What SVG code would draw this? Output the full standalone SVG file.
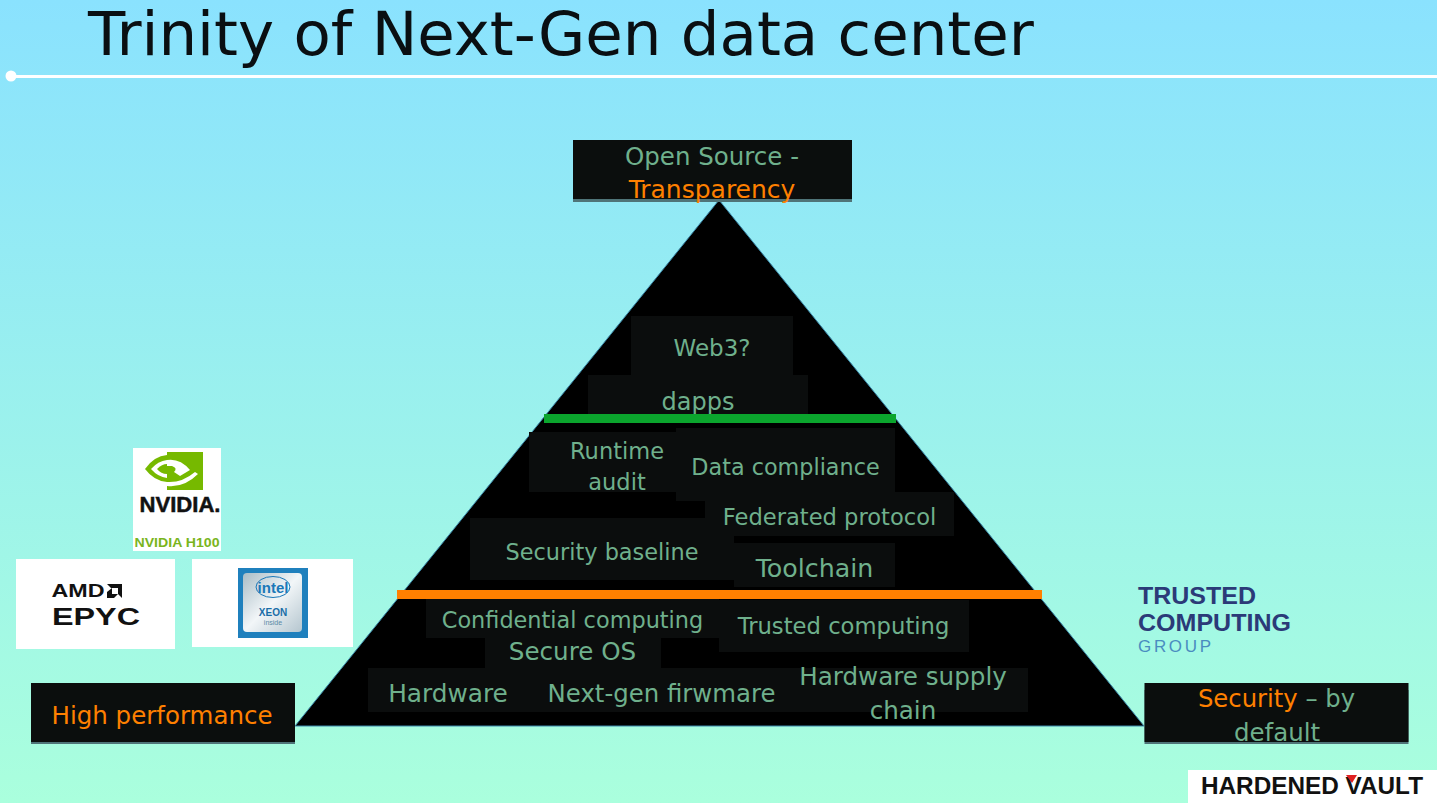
<svg xmlns="http://www.w3.org/2000/svg" width="1437" height="803" viewBox="0 0 1437 803">
<defs>
<linearGradient id="bg" x1="0" y1="0" x2="0" y2="1"><stop offset="0" stop-color="#8ae2fe"/><stop offset="1" stop-color="#aaffdd"/></linearGradient>
<linearGradient id="chip" x1="0" y1="0" x2="1" y2="1"><stop offset="0" stop-color="#a9bcc6"/><stop offset="0.5" stop-color="#f2f6f8"/><stop offset="1" stop-color="#b5c6cf"/></linearGradient>
</defs>
<style>
text{font-family:"DejaVu Sans",sans-serif;text-anchor:middle}
.g{fill:#6fb08c}
.o{fill:#ff8000}
.pl{fill:#0b0d0d}
.box{fill:#0b0e0d}
.sh{fill:#4f7478}
.lg{font-family:"Liberation Sans",sans-serif;font-weight:bold}
</style>
<rect width="1437" height="803" fill="url(#bg)"/>
<g id="title">
<text x="561" y="55" font-size="61" fill="#0a0f12">Trinity of Next-Gen data center</text>
<rect x="11" y="75" width="1426" height="3" fill="#fff"/>
<circle cx="11" cy="76" r="5.5" fill="#fff"/>
</g>
<g id="pyramid"><polygon points="719,200 1144,726 295,726" fill="#000" stroke="#3a86a8" stroke-width="1"/></g>
<g id="node-web3"><rect class="pl" x="631" y="316" width="162" height="62"/><text class="g" x="712" y="356" font-size="23">Web3?</text></g>
<g id="node-dapps"><rect class="pl" x="588" y="375" width="220" height="44"/><text class="g" x="698" y="410" font-size="24">dapps</text></g>
<g id="node-runtime"><rect class="pl" x="529" y="432" width="147" height="60"/><text class="g" x="617" y="459" font-size="22.5">Runtime</text><text class="g" x="617" y="490" font-size="22.5">audit</text></g>
<g id="node-compliance"><rect class="pl" x="676" y="428" width="219" height="73"/><text class="g" x="785.5" y="475" font-size="22.3">Data compliance</text></g>
<g id="node-baseline"><rect class="pl" x="470" y="518" width="264" height="62"/><text class="g" x="602" y="560" font-size="22.4">Security baseline</text></g>
<g id="node-federated"><rect class="pl" x="705" y="492" width="249" height="44"/><text class="g" x="829.5" y="525" font-size="22.6">Federated protocol</text></g>
<g id="node-toolchain"><rect class="pl" x="734" y="543" width="161" height="44"/><text class="g" x="814.5" y="577" font-size="25.3">Toolchain</text></g>
<g id="node-confidential"><rect class="pl" x="426" y="599" width="293" height="39"/><text class="g" x="572.5" y="628" font-size="22.4">Confidential computing</text></g>
<g id="node-trusted"><rect class="pl" x="719" y="600" width="250" height="52"/><text class="g" x="843.5" y="634" font-size="22.7">Trusted computing</text></g>
<g id="node-secureos"><rect class="pl" x="485" y="638" width="176" height="34"/><text class="g" x="572.5" y="660" font-size="24.6">Secure OS</text></g>
<g id="node-hardware"><rect class="pl" x="368" y="668" width="162" height="44"/><text class="g" x="448" y="702" font-size="24.8">Hardware</text></g>
<g id="node-firmware"><rect class="pl" x="530" y="668" width="265" height="44"/><text class="g" x="661.5" y="702" font-size="24.4">Next-gen firwmare</text></g>
<g id="node-supply"><rect class="pl" x="785" y="668" width="243" height="44"/><text class="g" x="903" y="685" font-size="24.6">Hardware supply</text><text class="g" x="903" y="719" font-size="24.6">chain</text></g>
<g id="bars">
<rect x="544" y="414" width="352" height="9" fill="#0ba52d"/>
<rect x="397" y="590" width="645" height="9" fill="#ff8000"/>
</g>
<g id="node-open">
<rect class="sh" x="573" y="145" width="279" height="57"/><rect class="box" x="573" y="140" width="279" height="59"/>
<text class="g" x="712" y="165" font-size="24.5">Open Source -</text><text class="g o" x="712" y="198" font-size="25">Transparency</text>
</g>
<g id="node-performance">
<rect class="sh" x="31" y="690" width="264" height="54"/><rect class="box" x="31" y="683" width="264" height="59"/>
<text class="g o" x="162" y="724" font-size="24.5">High performance</text>
</g>
<g id="node-security">
<rect class="sh" x="1144.500" y="690" width="264" height="54"/><rect class="box" x="1144.500" y="683" width="264" height="59"/>
<text class="g" x="1276.500" y="707" font-size="24.300"><tspan class="o">Security</tspan> – by</text><text class="g" x="1277" y="741" font-size="24.500">default</text>
</g>
<g id="logo-nvidia">
<rect x="133" y="448" width="88" height="103" fill="#fff"/>
<rect x="167" y="452" width="36" height="38" fill="#76b900"/>
<path d="M145 469Q154 456 167 455V482Q154 481 145 469Z" fill="#76b900"/>
<path d="M151 469Q158 461 167 460V478Q158 477 151 469Z" fill="#fff"/>
<path d="M157 469Q162 464 167 464V474Q161 474 157 469Z" fill="#76b900"/>
<path d="M167 460Q180 458 190 470L180 476L174 472Q178 468 172 466L167 466V462ZM167 482Q182 483 195 472L198 474Q184 488 167 486Z" fill="#fff"/>
<text class="lg" x="180" y="512" font-size="22" textLength="81" lengthAdjust="spacingAndGlyphs" fill="#111" stroke="#111" stroke-width="0.5">NVIDIA.</text>
<text class="lg" x="177" y="547" font-size="13" fill="#7ab51d" textLength="85" lengthAdjust="spacingAndGlyphs">NVIDIA H100</text>
</g>
<g id="logo-amd">
<rect x="16" y="559" width="159" height="90" fill="#fff"/>
<text class="lg" x="78" y="597" font-size="18" fill="#111" textLength="53" lengthAdjust="spacingAndGlyphs">AMD</text>
<path d="M107 584h15v14l-4-4v-6h-7zM107 598v-6l5-4v6h6l-4 4z" fill="#111"/>
<text class="lg" x="96" y="625" font-size="24" fill="#111" textLength="88" lengthAdjust="spacingAndGlyphs">EPYC</text>
</g>
<g id="logo-intel">
<rect x="192" y="559" width="161" height="88" fill="#fff"/>
<rect x="238" y="568" width="70" height="70" fill="#1f80bd"/>
<rect x="243" y="573" width="59" height="59" rx="4" fill="url(#chip)"/>
<ellipse cx="273" cy="587" rx="17" ry="10.500" fill="none" stroke="#1a78b8" stroke-width="1"/>
<text x="273" y="593" class="lg" font-size="15" fill="#1a78b8">intel</text>
<text x="273" y="616" class="lg" font-size="10" fill="#1a6ea8">XEON</text>
<text x="273" y="625" font-size="7" fill="#5a8aa5" style="font-family:'Liberation Sans',sans-serif">inside</text>
</g>
<g id="logo-tcg">
<text class="lg" x="1138" y="604" font-size="24" fill="#2b3a78" style="text-anchor:start" textLength="118" lengthAdjust="spacingAndGlyphs">TRUSTED</text>
<text class="lg" x="1138" y="631" font-size="24" fill="#2b3a78" style="text-anchor:start" textLength="153" lengthAdjust="spacingAndGlyphs">COMPUTING</text>
<text x="1138" y="652" font-size="17" fill="#4a8cc0" style="text-anchor:start;font-family:'Liberation Sans',sans-serif" textLength="73">GROUP</text>
</g>
<g id="logo-hv">
<rect x="1188" y="770" width="249" height="33" fill="#fff"/>
<text class="lg" x="1201" y="794" font-size="23" fill="#111" style="text-anchor:start" textLength="222" lengthAdjust="spacingAndGlyphs">HARDENED VAULT</text>
<polygon points="1346,775 1357,775 1352,783" fill="#e02020"/>
</g>
</svg>
